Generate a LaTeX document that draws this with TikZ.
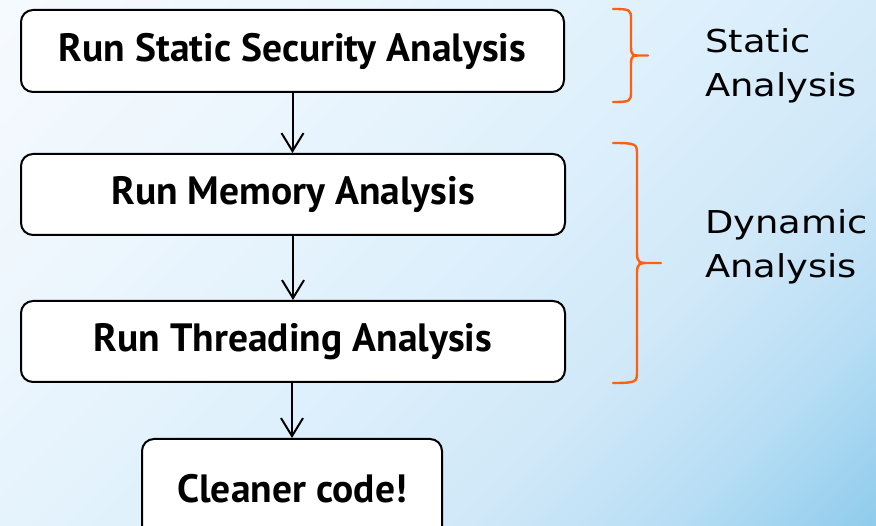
\documentclass[tikz,border=0pt]{standalone}
\usepackage{fontspec}
\setmainfont{DejaVu Sans}
\newfontfamily\boxfont{PT Sans}
\newfontfamily\sidefont[FakeStretch=1.17]{DejaVu Sans}
\usetikzlibrary{arrows.meta}

\definecolor{bgpale}{RGB}{246,250,254}
\definecolor{bgsoft}{RGB}{236,246,253}
\definecolor{bglight}{RGB}{222,240,252}
\definecolor{bgmid}{RGB}{208,232,248}
\definecolor{bgsky}{RGB}{184,222,245}
\definecolor{bgdeep}{RGB}{144,204,236}
\definecolor{bracecol}{RGB}{255,96,16}

% diagonal wash: deep blue in the lower right, almost white in the upper left
\pgfdeclareverticalshading{skyfade}{100bp}{%
  color(0bp)=(bgdeep); color(14.6bp)=(bgdeep); color(25.2bp)=(bgsky);
  color(35.1bp)=(bgmid); color(50bp)=(bglight); color(67.7bp)=(bgsoft);
  color(85.4bp)=(bgpale); color(100bp)=(bgpale)}

\begin{document}
\begin{tikzpicture}[x=1pt,y=-1pt,
  stepbox/.style={draw=black, line width=2pt, fill=white,
    rounded corners=12pt, inner sep=0pt,
    font=\boxfont\bfseries\fontsize{39.5}{44}\selectfont},
  flow/.style={draw=black, line width=2pt,
    -{Straight Barb[length=18pt,width=22pt]}},
  bracket/.style={draw=bracecol, line width=2.4pt, line cap=round},
  sidetext/.style={inner sep=0pt, align=left, anchor=north west,
    font=\sidefont\fontsize{31.5}{44}\selectfont}]

  % page frame and background
  \useasboundingbox (0,0) rectangle (876,526);
  \clip (0,0) rectangle (876,526);
  \shade[shading=skyfade, shading angle=45] (0,0) rectangle (876,526);

  % process steps
  \node[stepbox, minimum width=543pt, minimum height=82pt]
    (b1) at (292.5,51) {Run Static Security Analysis};
  \node[stepbox, minimum width=544pt, minimum height=81pt]
    (b2) at (293,194.5) {Run Memory Analysis};
  \node[stepbox, minimum width=544pt, minimum height=81pt]
    (b3) at (293,341.5) {Run Threading Analysis};
  \node[stepbox, minimum width=300pt, minimum height=100pt, anchor=north]
    (b4) at (292,438) {Cleaner code!};

  % connectors
  \draw[flow] (b1.south) -- (b1.south |- b2.north);
  \draw[flow] (b2.south) -- (b2.south |- b3.north);
  \draw[flow] (b3.south -| b4.north) -- (b4.north);

  % grouping braces
  \draw[bracket] (613,9) .. controls (631,9) and (631,10) .. (631,20)
    -- (631,47) .. controls (631,55.5) and (633,55.5) .. (640,55.5)
    -- (648,55.5)
    (640,55.5) .. controls (633,55.5) and (631,55.5) .. (631,64)
    -- (631,91) .. controls (631,101) and (631,102) .. (613,102);
  \draw[bracket] (613,143) .. controls (637,143) and (637,144) .. (637,155)
    -- (637,253) .. controls (637,263) and (640,263) .. (648,263)
    -- (661,263)
    (648,263) .. controls (640,263) and (637,263) .. (637,273)
    -- (637,371) .. controls (637,382) and (637,383) .. (613,383);

  % group labels
  \node[sidetext] (gs) at (705,28) {Static\\Analysis};
  \node[sidetext] (gd) at (705,209) {Dynamic\\Analysis};
\end{tikzpicture}
\end{document}
